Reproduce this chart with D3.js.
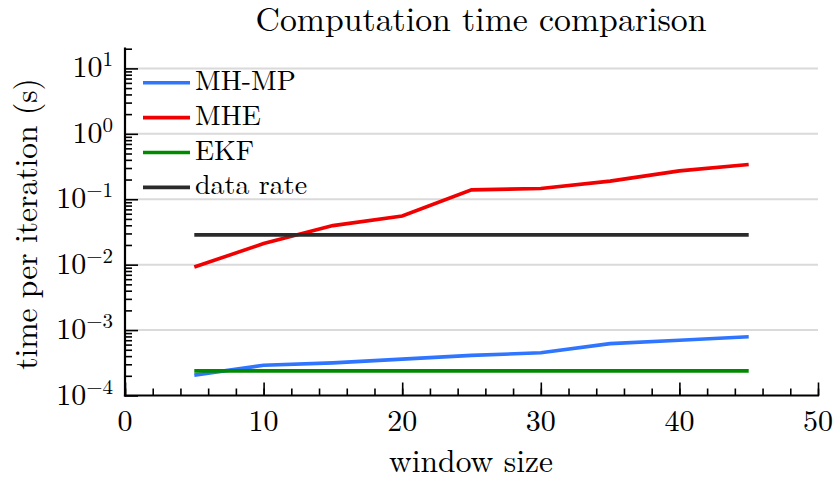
<!DOCTYPE html>
<html>
<head>
<meta charset="utf-8">
<script src="https://cdn.jsdelivr.net/npm/d3@7"></script>
<style>
  body { margin: 0; background: #fff; }
</style>
</head>
<body>
<script>
// window sizes used in the comparison
var windowSizes = [5, 10, 15, 20, 25, 30, 35, 40, 45];

// time per iteration in seconds
var mhmp = [2.05e-4, 2.9e-4, 3.15e-4, 3.6e-4, 4.1e-4, 4.5e-4, 6.2e-4, 7.0e-4, 7.9e-4];
var mhe  = [0.0092, 0.021, 0.0395, 0.0555, 0.139, 0.146, 0.189, 0.271, 0.34];
var ekf  = [2.38e-4, 2.38e-4, 2.38e-4, 2.38e-4, 2.38e-4, 2.38e-4, 2.38e-4, 2.38e-4, 2.38e-4];
var dataRate = [0.0285, 0.0285, 0.0285, 0.0285, 0.0285, 0.0285, 0.0285, 0.0285, 0.0285];

var seriesNames = ["MH-MP", "MHE", "EKF", "data rate"];
var seriesColors = ["#2f75ff", "#f00000", "#008a00", "#2b2b2b"];

var xTicks = [0, 10, 20, 30, 40, 50];
var yExponents = [1, 0, -1, -2, -3, -4];

var width = 836, height = 480;
var font = "'Latin Modern Roman', 'Liberation Serif', monospace";

var svg = d3.select("body").append("svg")
            .attr("width", width)
            .attr("height", height);

var x = d3.scaleLinear().domain([0, 50]).range([125, 818]);
var y = d3.scaleLog().domain([1e-4, 20]).range([395.5, 48.7]);

// grid lines at each decade
svg.append("g")
   .selectAll("line")
   .data(yExponents.filter(function(e) { return e > -4; }))
   .enter().append("line")
   .attr("x1", x(0))
   .attr("x2", x(50))
   .attr("y1", function(e) { return y(Math.pow(10, e)); })
   .attr("y2", function(e) { return y(Math.pow(10, e)); })
   .style("stroke", "#dadada")
   .style("stroke-width", 2);

// lines
var allSeries = [mhmp, mhe, ekf, dataRate];
var line = d3.line()
             .x(function(d, i) { return x(windowSizes[i]); })
             .y(function(d) { return y(d); });

[1, 3, 0, 2].forEach(function(k) {
  svg.append("path")
     .datum(allSeries[k])
     .attr("d", line)
     .style("fill", "none")
     .style("stroke", seriesColors[k])
     .style("stroke-width", 3.6);
});

// y axis with inside ticks
var yMinor = [];
for (var e = -4; e <= 1; e++) {
  for (var m = 2; m <= 9; m++) {
    var v = m * Math.pow(10, e);
    if (v <= 20) yMinor.push(v);
  }
}
var yMajor = yExponents.map(function(e) { return Math.pow(10, e); });

var yAxisMinor = d3.axisRight(y).tickValues(yMinor).tickSize(7).tickFormat("");
var yAxisMajor = d3.axisRight(y).tickValues(yMajor).tickSize(13).tickFormat("");

svg.append("g").attr("transform", "translate(" + x(0) + ",0)").call(yAxisMinor);
svg.append("g").attr("transform", "translate(" + x(0) + ",0)").call(yAxisMajor);

// x axis with inside ticks
var xMinor = d3.range(0, 51, 2);
var xAxisMinor = d3.axisTop(x).tickValues(xMinor).tickSize(7).tickFormat("");
var xAxisMajor = d3.axisTop(x).tickValues(xTicks).tickSize(13).tickFormat("");

svg.append("g").attr("transform", "translate(0," + y(1e-4) + ")").call(xAxisMinor);
svg.append("g").attr("transform", "translate(0," + y(1e-4) + ")").call(xAxisMajor);

svg.selectAll(".domain").remove();
svg.append("line").attr("x1", x(0)).attr("x2", x(0)).attr("y1", y(20)).attr("y2", y(1e-4))
   .style("stroke", "#000").style("stroke-width", 2.2).style("stroke-linecap", "square");
svg.append("line").attr("x1", x(0)).attr("x2", x(50)).attr("y1", y(1e-4)).attr("y2", y(1e-4))
   .style("stroke", "#000").style("stroke-width", 2.2).style("stroke-linecap", "square");
svg.selectAll(".tick line").style("stroke", "#000").style("stroke-width", 1.6);

// tick labels
svg.append("g").selectAll("text")
   .data(xTicks)
   .enter().append("text")
   .attr("x", function(d) { return x(d); })
   .attr("y", 431)
   .attr("text-anchor", "middle")
   .style("font-family", font)
   .style("font-size", "30px")
   .text(function(d) { return d; });

var yl = svg.append("g").selectAll("text")
   .data(yExponents)
   .enter().append("text")
   .attr("x", 113)
   .attr("y", function(e) { return y(Math.pow(10, e)) + 9; })
   .attr("text-anchor", "end")
   .style("font-family", font)
   .style("font-size", "30px");
yl.append("tspan").text("10");
yl.append("tspan")
  .attr("dy", -11)
  .style("font-size", "21px")
  .text(function(e) { return e < 0 ? "\u2212" + (-e) : e; });

// axis labels and title
svg.append("text")
   .attr("x", 471)
   .attr("y", 472)
   .attr("text-anchor", "middle")
   .style("font-family", font)
   .style("font-size", "31.5px")
   .text("window size");

svg.append("text")
   .attr("transform", "translate(37,224) rotate(-90)")
   .attr("text-anchor", "middle")
   .style("font-family", font)
   .style("font-size", "31.5px")
   .text("time per iteration (s)");

svg.append("text")
   .attr("x", 481)
   .attr("y", 31)
   .attr("text-anchor", "middle")
   .style("font-family", font)
   .style("font-size", "33.8px")
   .text("Computation time comparison");

// legend
var legend = svg.append("g").selectAll("g")
   .data(seriesNames)
   .enter().append("g")
   .attr("transform", function(d, i) { return "translate(0," + (82.7 + i * 34.9) + ")"; });
legend.append("line")
   .attr("x1", 143).attr("x2", 190)
   .style("stroke", function(d, i) { return seriesColors[i]; })
   .style("stroke-width", 3.6);
legend.append("text")
   .attr("x", 195)
   .attr("y", 7)
   .style("font-family", font)
   .style("font-size", "28px")
   .text(function(d) { return d; });
</script>
</body>
</html>
